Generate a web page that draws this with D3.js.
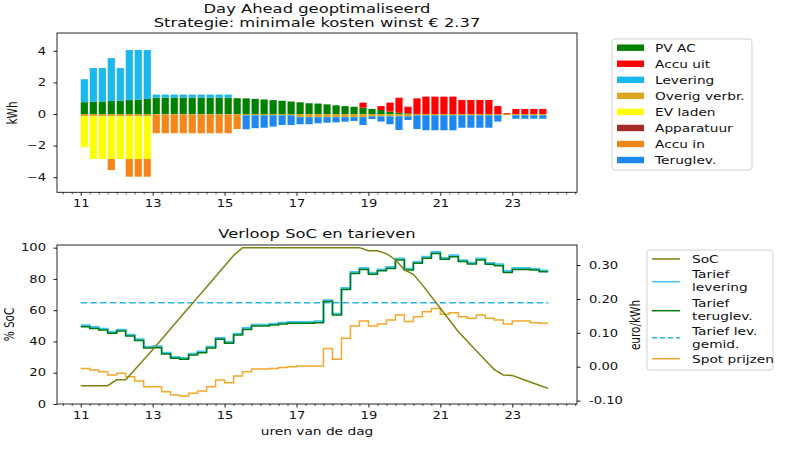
<!DOCTYPE html>
<html><head><meta charset="utf-8">
<script src="https://cdn.jsdelivr.net/npm/d3@7"></script>
<style>
body{margin:0;background:#fff}
text{font-family:"DejaVu Sans",sans-serif;fill:#111}
</style>
</head><body>
<svg id="c" width="785" height="450"></svg>
<script>
// ---------- DATA ----------
const hours = [11,11.25,11.5,11.75,12,12.25,12.5,12.75,13,13.25,13.5,13.75,14,14.25,14.5,14.75,15,15.25,15.5,15.75,16,16.25,16.5,16.75,17,17.25,17.5,17.75,18,18.25,18.5,18.75,19,19.25,19.5,19.75,20,20.25,20.5,20.75,21,21.25,21.5,21.75,22,22.25,22.5,22.75,23,23.25,23.5,23.75];
const socHours = [11,11.25,11.5,11.75,12,12.25,12.5,12.75,13,13.25,13.5,13.75,14,14.25,14.5,14.75,15,15.25,15.5,15.75,16,16.25,16.5,16.75,17,17.25,17.5,17.75,18,18.25,18.5,18.75,19,19.25,19.5,19.75,20,20.25,20.5,20.75,21,21.25,21.5,21.75,22,22.25,22.5,22.75,23,23.25,23.5,23.75,24];
const endHour = 24;

const pvAC = [0.75,0.77,0.79,0.82,0.85,0.88,0.92,0.95,1.03,1.03,1.03,1.03,1.03,1.03,1.03,1.03,1.03,1.0,0.99,0.96,0.92,0.88,0.84,0.79,0.74,0.68,0.66,0.61,0.55,0.5,0.46,0.4,0.32,0.25,0.15,0.08,0.04,0,0,0,0,0,0,0,0,0,0,0,0,0,0,0];
const accuUit = [0,0,0,0,0,0,0,0,0,0,0,0,0,0,0,0,0,0,0,0,0,0,0,0,0,0,0,0,0,0,0,0.32,0,0.25,0.57,0.95,0.42,0.99,1.1,1.1,1.1,1.1,0.89,0.89,0.89,0.89,0.5,0.05,0.32,0.32,0.32,0.32];
const levering = [1.45,2.14,2.12,2.72,2.06,3.17,3.13,3.1,0.2,0.2,0.2,0.2,0.2,0.2,0.2,0.2,0.2,0,0,0,0,0,0,0,0,0,0,0,0,0,0,0,0,0,0,0,0,0,0,0,0,0,0,0,0,0,0,0,0,0,0,0];
const overigVerbr = [-0.15,-0.15,-0.15,-0.15,-0.15,-0.15,-0.15,-0.15,-0.05,-0.05,-0.05,-0.05,-0.05,-0.05,-0.05,-0.05,-0.05,-0.05,-0.08,-0.08,-0.08,-0.08,-0.08,-0.08,-0.2,-0.2,-0.2,-0.2,-0.2,-0.2,-0.2,-0.2,-0.15,-0.15,-0.15,-0.15,-0.15,-0.08,-0.08,-0.08,-0.08,-0.08,-0.08,-0.08,-0.08,-0.08,-0.08,-0.08,-0.08,-0.08,-0.08,-0.08];
const evLaden = [-1.95,-2.7,-2.7,-2.7,-2.7,-2.7,-2.7,-2.7,0,0,0,0,0,0,0,0,0,0,0,0,0,0,0,0,0,0,0,0,0,0,0,0,0,0,0,0,0,0,0,0,0,0,0,0,0,0,0,0,0,0,0,0];
const apparatuur = [0,0,0,0,0,0,0,0,0,0,0,0,0,0,0,0,0,0,0,0,0,0,0,0,0,0,0,0,0,0,0,0,0,0,0,0,0,0,0,0,0,0,0,0,0,0,0,0,0,0,0,0];
const accuIn = [0,0,0,-0.7,0,-1.12,-1.12,-1.12,-1.17,-1.17,-1.17,-1.17,-1.17,-1.17,-1.17,-1.17,-1.17,-0.9,0,0,0,0,0,0,0,0,0,0,0,0,0,0,0,0,0,0,0,0,0,0,0,0,0,0,0,0,0,0,0,0,0,0];
const teruglev = [0,0,0,0,0,0,0,0,0,0,0,0,0,0,0,0,0,0,-0.89,-0.82,-0.79,-0.72,-0.62,-0.62,-0.45,-0.45,-0.39,-0.35,-0.33,-0.29,-0.24,-0.5,-0.17,-0.33,-0.5,-0.86,-0.23,-0.87,-0.95,-0.95,-0.95,-0.95,-0.79,-0.79,-0.79,-0.79,-0.4,0,-0.22,-0.22,-0.22,-0.22];

const soc = [11.7,11.7,11.7,11.7,15.5,15.5,21.9,28.3,34.7,41.4,48.1,54.8,61.5,68.2,74.9,81.6,88.3,95,100,100,100,100,100,100,100,100,100,100,100,100,100,100,98,98,96.2,92.3,85.8,83,76.2,68.7,61.2,53.7,46.2,40.1,34,28,22,18.6,18.3,16.2,14.1,12,10];
const tariefLevering = [0.122,0.117,0.112,0.1025,0.109,0.0945,0.081,0.059,0.06,0.0415,0.029,0.026,0.0385,0.045,0.059,0.085,0.073,0.0975,0.114,0.124,0.124,0.127,0.13,0.132,0.132,0.132,0.134,0.196,0.1565,0.232,0.279,0.291,0.277,0.287,0.294,0.319,0.289,0.309,0.324,0.338,0.321,0.3285,0.314,0.307,0.319,0.306,0.302,0.282,0.291,0.291,0.289,0.284];
const tariefTeruglev = [0.118,0.113,0.108,0.0985,0.105,0.0905,0.077,0.055,0.056,0.0375,0.025,0.022,0.0345,0.041,0.055,0.081,0.069,0.0935,0.11,0.12,0.12,0.123,0.126,0.128,0.128,0.128,0.13,0.192,0.1525,0.228,0.275,0.287,0.273,0.283,0.29,0.315,0.285,0.305,0.32,0.334,0.317,0.3245,0.31,0.303,0.315,0.302,0.298,0.278,0.287,0.287,0.285,0.28];
const tariefGemid = 0.189;
const spotPrijzen = [-0.005,-0.01,-0.015,-0.0245,-0.0195,-0.0295,-0.042,-0.059,-0.059,-0.074,-0.0835,-0.0865,-0.0785,-0.072,-0.059,-0.039,-0.047,-0.0275,-0.015,-0.007,-0.007,-0.005,-0.002,0.0,0.002,0.002,0.002,0.054,0.0218,0.0838,0.12,0.135,0.12,0.126,0.138,0.1525,0.133,0.1475,0.162,0.172,0.1545,0.159,0.1475,0.143,0.1525,0.143,0.138,0.126,0.135,0.135,0.13,0.128];

const barKeys = ["PV AC","Accu uit","Levering","Overig verbr.","EV laden","Apparatuur","Accu in","Teruglev."];
const barSeries = [pvAC, accuUit, levering, overigVerbr, evLaden, apparatuur, accuIn, teruglev];
const barColors = ["#008000","#ff0000","#1ab8ec","#daa520","#ffff00","#a52a2a","#f5861a","#1e88f0"];

const xMajor = [11,13,15,17,19,21,23];
const yTopTicks = [-4,-2,0,2,4];
const ySocTicks = [0,20,40,60,80,100];
const yEurTicks = [-0.1,0,0.1,0.2,0.3];

const titleTop1 = "Day Ahead geoptimaliseerd";
const titleTop2 = "Strategie: minimale kosten winst € 2.37";
const titleBottom = "Verloop SoC en tarieven";

// ---------- LAYOUT ----------
const SX = 1.31;
const svg = d3.select("#c");
const L = 57, R = 577;
const top1 = 33, bot1 = 192.3, top2 = 245, bot2 = 404;

function label(x, y, s, size, anchor, rot) {
  return svg.append("text")
    .attr("transform", `translate(${x},${y}) scale(${SX},1)` + (rot ? " rotate(-90)" : ""))
    .attr("text-anchor", anchor || "middle").attr("font-size", size).text(s);
}

const x = d3.scaleLinear().domain([10.34, 24.8]).range([L, R]);
const minorTicks = d3.range(10.5, 24.8, 0.25).filter(v => !xMajor.includes(v));

function xAxes(yPos) {
  const g = svg.append("g").attr("transform", `translate(0,${yPos})`)
    .call(d3.axisBottom(x).tickValues(xMajor).tickSize(3.5).tickPadding(4).tickFormat(d3.format("d")));
  g.select(".domain").remove();
  g.selectAll("line").attr("stroke", "#000").attr("stroke-width", 0.9);
  g.selectAll("text").attr("font-size", 10).attr("font-family", "DejaVu Sans").attr("fill", "#111")
    .attr("transform", `scale(${SX},1)`);
  const gm = svg.append("g").attr("transform", `translate(0,${yPos})`)
    .call(d3.axisBottom(x).tickValues(minorTicks).tickSize(2).tickFormat(""));
  gm.select(".domain").remove();
  gm.selectAll("line").attr("stroke", "#000").attr("stroke-width", 0.7);
}

function yAxis(scale, ticks, fmt, side, xPos) {
  const ax = side === "left" ? d3.axisLeft(scale) : d3.axisRight(scale);
  const g = svg.append("g").attr("transform", `translate(${xPos},0)`)
    .call(ax.tickValues(ticks).tickSize(3.5).tickFormat(fmt));
  g.select(".domain").remove();
  g.selectAll("line").attr("stroke", "#000").attr("stroke-width", 0.9);
  g.selectAll("text").attr("font-size", 10).attr("font-family", "DejaVu Sans").attr("fill", "#111")
    .attr("transform", `scale(${SX},1)`)
    .attr("x", side === "left" ? -11 / SX : 12 / SX);
}

// ---------- TOP CHART ----------
const yTop = d3.scaleLinear().domain([-4.96, 5.13]).range([bot1, top1]);
const table = hours.map((h, i) => {
  const o = { hour: h };
  barKeys.forEach((k, j) => o[k] = barSeries[j][i]);
  return o;
});
const stacked = d3.stack().keys(barKeys).offset(d3.stackOffsetDiverging)(table);
const bw = x(11.2) - x(11);
svg.append("g").selectAll("g").data(stacked).join("g")
  .attr("fill", (d, i) => barColors[i])
  .selectAll("rect").data(d => d.filter(p => p[1] !== p[0])).join("rect")
  .attr("x", d => x(d.data.hour))
  .attr("width", bw)
  .attr("y", d => yTop(Math.max(d[0], d[1])))
  .attr("height", d => Math.abs(yTop(d[0]) - yTop(d[1])));

svg.append("rect").attr("x", L).attr("y", top1).attr("width", R - L).attr("height", bot1 - top1)
  .attr("fill", "none").attr("stroke", "#111").attr("stroke-width", 0.9);
xAxes(bot1);
yAxis(yTop, yTopTicks, d => d < 0 ? "\u2212" + Math.abs(d) : String(d), "left", L);
label(17, 113, "kWh", 10.5, "middle", true);
label(317, 13, titleTop1, 12.5);
label(317, 27, titleTop2, 12.5);

// top legend
const lg1 = svg.append("g");
lg1.append("rect").attr("x", 612).attr("y", 39).attr("width", 140).attr("height", 131)
  .attr("rx", 3).attr("fill", "#fff").attr("fill-opacity", 0.8).attr("stroke", "#ccc").attr("stroke-width", 0.9);
barKeys.forEach((k, i) => {
  const cy = 47.7 + i * 16.05;
  lg1.append("rect").attr("x", 617).attr("y", cy - 3.2).attr("width", 27).attr("height", 6.4).attr("fill", barColors[i]);
  label(655, cy + 3.8, k, 10.5, "start");
});

// ---------- BOTTOM CHART ----------
const ySoc = d3.scaleLinear().domain([0, 101.7]).range([bot2, top2]);
const yEur = d3.scaleLinear().domain([-0.11, 0.359]).range([bot2, top2]);

const stepLine = (vals) => {
  const pts = vals.map((v, i) => [hours[i], v]);
  pts.push([endHour, vals[vals.length - 1]]);
  return d3.line().x(d => x(d[0])).y(d => yEur(d[1])).curve(d3.curveStepAfter)(pts);
};

svg.append("path").attr("d", stepLine(spotPrijzen)).attr("fill", "none").attr("stroke", "#f2a82a").attr("stroke-width", 1.5);
svg.append("path").attr("d", d3.line().x(d => x(d)).y(() => yEur(tariefGemid))([hours[0], endHour]))
  .attr("fill", "none").attr("stroke", "#2ab4e6").attr("stroke-width", 1.5).attr("stroke-dasharray", "6.5,3.2");
svg.append("path").attr("d", stepLine(tariefLevering)).attr("fill", "none").attr("stroke", "#3fc6ee").attr("stroke-width", 2);
svg.append("path").attr("d", stepLine(tariefTeruglev)).attr("fill", "none").attr("stroke", "#007a10").attr("stroke-width", 1.5);
svg.append("path").attr("d", d3.line().x((d, i) => x(socHours[i])).y(d => ySoc(d))(soc))
  .attr("fill", "none").attr("stroke", "#808010").attr("stroke-width", 1.5);

svg.append("rect").attr("x", L).attr("y", top2).attr("width", R - L).attr("height", bot2 - top2)
  .attr("fill", "none").attr("stroke", "#111").attr("stroke-width", 0.9);
xAxes(bot2);
yAxis(ySoc, ySocTicks, d3.format("d"), "left", L);
yAxis(yEur, yEurTicks, d => d3.format(".2f")(d).replace("\u2212", "-"), "right", R);
label(13.5, 324.5, "% SoC", 10.5, "middle", true);
label(640, 325, "euro/kWh", 10.5, "middle", true);
label(317, 238.3, titleBottom, 12.5);
label(317, 435, "uren van de dag", 10.5);

// bottom legend
const lg2 = svg.append("g");
lg2.append("rect").attr("x", 647).attr("y", 250).attr("width", 126).attr("height", 120)
  .attr("rx", 3).attr("fill", "#fff").attr("fill-opacity", 0.8).attr("stroke", "#ccc").attr("stroke-width", 0.9);
const leg2 = [
  { c: "#808010", dash: null, ly: 259, lines: ["SoC"], ty: [259] },
  { c: "#3fc6ee", dash: null, ly: 281.7, lines: ["Tarief", "levering"], ty: [274.3, 287] },
  { c: "#007a10", dash: null, ly: 310.7, lines: ["Tarief", "teruglev."], ty: [303.3, 316] },
  { c: "#2ab4e6", dash: "5,3", ly: 337.7, lines: ["Tarief lev.", "gemid."], ty: [331, 344] },
  { c: "#f2a82a", dash: null, ly: 358.7, lines: ["Spot prijzen"], ty: [358.7] }
];
leg2.forEach(e => {
  lg2.append("line").attr("x1", 652).attr("x2", 680).attr("y1", e.ly).attr("y2", e.ly)
    .attr("stroke", e.c).attr("stroke-width", 1.5).attr("stroke-dasharray", e.dash);
  e.lines.forEach((t, j) => label(692, e.ty[j] + 3.8, t, 10.5, "start"));
});
</script>
</body></html>
